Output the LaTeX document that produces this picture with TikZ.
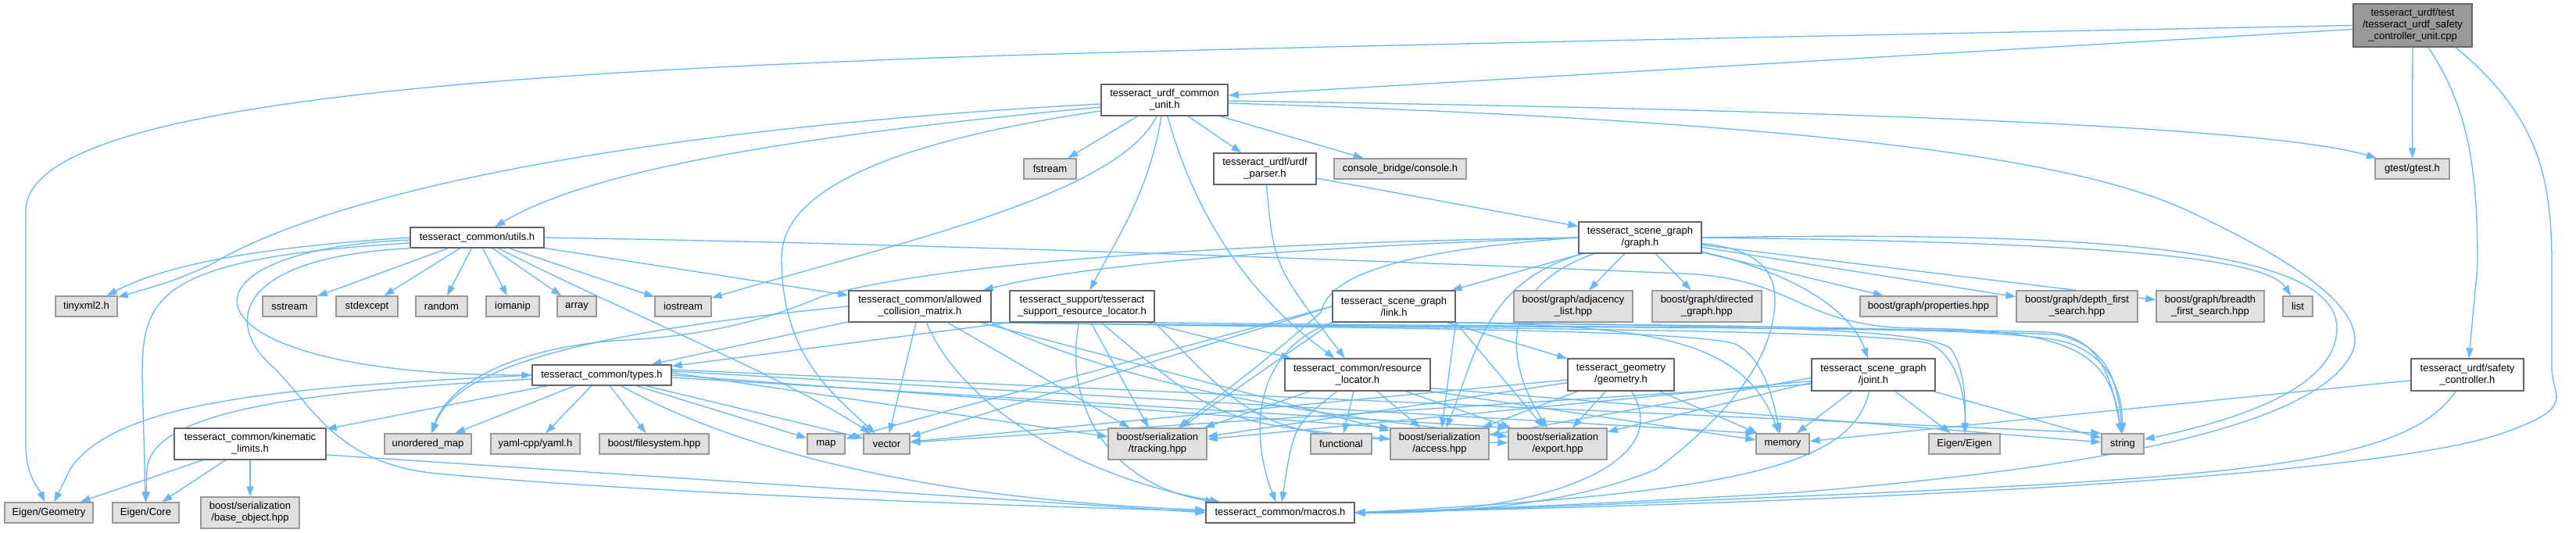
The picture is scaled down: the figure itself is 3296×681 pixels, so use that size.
\documentclass[tikz,border=0pt]{standalone}
\usepackage{fontspec}
\setmainfont{Liberation Sans}
\usetikzlibrary{arrows.meta}
\definecolor{edgec}{RGB}{99,184,255}
\definecolor{leaffill}{RGB}{224,224,224}
\definecolor{leafdraw}{RGB}{153,153,153}
\definecolor{nodedraw}{RGB}{102,102,102}
\definecolor{mainfill}{RGB}{153,153,153}
\pgfdeclarelayer{bg}
\pgfsetlayers{bg,main}
\newcommand\mkbox[7]{\node[#6, minimum width={(#3-#2)*1pt}, minimum height={(#5-#4)*1pt}] (#1) at ({(#2+#3)/2},{(#4+#5)/2}) {#7};}
\begin{document}
\begin{tikzpicture}[x=1pt,y=-1pt,
  nbox/.style={rectangle, inner sep=0pt, font=\fontsize{13}{15}\selectfont, align=center, line width=1.4pt},
  leafbox/.style={nbox, draw=leafdraw, fill=leaffill},
  hdrbox/.style={nbox, draw=nodedraw, fill=white},
  rootbox/.style={nbox, draw=nodedraw, fill=mainfill},
  dep/.style={draw=edgec, line width=1.3pt, -{Triangle[length=13pt,width=9pt]}}]
\useasboundingbox (0,0) rectangle (3296,681);

\mkbox{main}{3011}{3163}{5}{60}{rootbox}{tesseract\_urdf/test\\/tesseract\_urdf\_safety\\\_controller\_unit.cpp}
\mkbox{ucu}{1409}{1571}{108}{148}{hdrbox}{tesseract\_urdf\_common\\\_unit.h}
\mkbox{fstream}{1310}{1377}{203}{229}{leafbox}{fstream}
\mkbox{parser}{1553}{1684}{196}{236}{hdrbox}{tesseract\_urdf/urdf\\\_parser.h}
\mkbox{console}{1707}{1876}{203}{229}{leafbox}{console\_bridge/console.h}
\mkbox{gtest}{3039}{3134}{203}{229}{leafbox}{gtest/gtest.h}
\mkbox{utils}{525}{696}{291}{317}{hdrbox}{tesseract\_common/utils.h}
\mkbox{graph}{2020}{2177}{284}{324}{hdrbox}{tesseract\_scene\_graph\\/graph.h}
\mkbox{tinyxml}{71}{150}{379}{405}{leafbox}{tinyxml2.h}
\mkbox{sstream}{336}{405}{379}{405}{leafbox}{sstream}
\mkbox{stdexcept}{430}{509}{379}{405}{leafbox}{stdexcept}
\mkbox{random}{532}{598}{379}{405}{leafbox}{random}
\mkbox{iomanip}{622}{690}{379}{405}{leafbox}{iomanip}
\mkbox{array}{713}{763}{379}{405}{leafbox}{array}
\mkbox{iostream}{838}{910}{379}{405}{leafbox}{iostream}
\mkbox{acm}{1086}{1268}{372}{412}{hdrbox}{tesseract\_common/allowed\\\_collision\_matrix.h}
\mkbox{support}{1292}{1477}{372}{412}{hdrbox}{tesseract\_support/tesseract\\\_support\_resource\_locator.h}
\mkbox{link}{1705}{1862}{372}{412}{hdrbox}{tesseract\_scene\_graph\\/link.h}
\mkbox{adj}{1937}{2089}{372}{412}{leafbox}{boost/graph/adjacency\\\_list.hpp}
\mkbox{directed}{2114}{2254}{372}{412}{leafbox}{boost/graph/directed\\\_graph.hpp}
\mkbox{props}{2380}{2555}{379}{405}{leafbox}{boost/graph/properties.hpp}
\mkbox{dfs}{2580}{2735}{372}{412}{leafbox}{boost/graph/depth\_first\\\_search.hpp}
\mkbox{bfs}{2759}{2897}{372}{412}{leafbox}{boost/graph/breadth\\\_first\_search.hpp}
\mkbox{list}{2921}{2959}{379}{405}{leafbox}{list}
\mkbox{types}{681}{859}{467}{493}{hdrbox}{tesseract\_common/types.h}
\mkbox{resloc}{1644}{1830}{459}{500}{hdrbox}{tesseract\_common/resource\\\_locator.h}
\mkbox{geometry}{2006}{2142}{459}{500}{hdrbox}{tesseract\_geometry\\/geometry.h}
\mkbox{joint}{2318}{2476}{459}{500}{hdrbox}{tesseract\_scene\_graph\\/joint.h}
\mkbox{safety}{3085}{3229}{459}{500}{hdrbox}{tesseract\_urdf/safety\\\_controller.h}
\mkbox{kinlim}{223}{417}{548}{588}{hdrbox}{tesseract\_common/kinematic\\\_limits.h}
\mkbox{umap}{492}{603}{555}{581}{leafbox}{unordered\_map}
\mkbox{yaml}{628}{742}{555}{581}{leafbox}{yaml-cpp/yaml.h}
\mkbox{fs}{767}{907}{555}{581}{leafbox}{boost/filesystem.hpp}
\mkbox{map}{1033}{1081}{555}{581}{leafbox}{map}
\mkbox{vector}{1105}{1164}{555}{581}{leafbox}{vector}
\mkbox{tracking}{1418}{1544}{548}{588}{leafbox}{boost/serialization\\/tracking.hpp}
\mkbox{functional}{1677}{1755}{555}{581}{leafbox}{functional}
\mkbox{access}{1779}{1905}{548}{588}{leafbox}{boost/serialization\\/access.hpp}
\mkbox{export}{1930}{2056}{548}{588}{leafbox}{boost/serialization\\/export.hpp}
\mkbox{memory}{2247}{2315}{555}{581}{leafbox}{memory}
\mkbox{eigen}{2468}{2559}{555}{581}{leafbox}{Eigen/Eigen}
\mkbox{string}{2689}{2743}{555}{581}{leafbox}{string}
\mkbox{egeom}{6}{119}{643}{669}{leafbox}{Eigen/Geometry}
\mkbox{ecore}{144}{229}{643}{669}{leafbox}{Eigen/Core}
\mkbox{baseobj}{257}{383}{636}{676}{leafbox}{boost/serialization\\/base\_object.hpp}
\mkbox{macros}{1543}{1733}{643}{669}{hdrbox}{tesseract\_common/macros.h}

\begin{pgfonlayer}{bg}
\fill[white] (0,0) rectangle (3296,681);
% main
\draw[dep] (main.west) .. controls (2000,52) and (1300,68) .. (1100,78) .. controls (400,105) and (33,160) .. (33,270) -- (33,570) .. controls (33,610) and (50,625) .. (egeom);
\draw[dep] ([yshift=-5pt]main.west) -- ([yshift=6pt]ucu.east);
\draw[dep] (main) -- (gtest);
\draw[dep] ([xshift=20pt]main.south) .. controls (3160,140) and (3170,220) .. (3170,340) -- (safety);
\draw[dep] ([xshift=55pt]main.south) .. controls (3250,150) and (3265,230) .. (3265,340) -- (3265,470) .. controls (3265,510) and (3300,520) .. (3200,555) .. controls (3050,605) and (2500,640) .. (macros.east);
% ucu
\draw[dep] (ucu) -- (fstream);
\draw[dep] (ucu) -- (parser);
\draw[dep] (ucu) -- (console);
\draw[dep] ([yshift=-1pt]ucu.east) .. controls (2300,140) and (2900,160) .. (gtest);
\draw[dep] ([yshift=-4pt]ucu.east) .. controls (2300,155) and (2650,200) .. (2800,270) .. controls (2950,340) and (3030,400) .. (3010,450) .. controls (2960,560) and (2600,605) .. (2300,630) .. controls (2000,648) and (1850,652) .. (macros.east);
\draw[dep] ([yshift=-5pt]ucu.west) .. controls (900,160) and (450,230) .. (267,340) .. controls (220,360) .. (tinyxml);
\draw[dep] ([yshift=-9pt]ucu.west) .. controls (1000,175) and (750,220) .. (utils);
\draw[dep] ([yshift=-14pt]ucu.west) .. controls (1150,180) and (1000,240) .. (1000,330) .. controls (1000,450) and (1060,500) .. (vector);
\draw[dep] ([xshift=-10pt]ucu.south) .. controls (1430,250) and (1150,310) .. (iostream);
\draw[dep] ([xshift=-4pt]ucu.south) .. controls (1470,250) and (1420,320) .. (support);
\draw[dep] ([xshift=4pt]ucu.south) .. controls (1530,280) and (1600,380) .. (resloc);
% parser
\draw[dep] (parser) -- (graph);
\draw[dep] (parser) .. controls (1630,340) .. (resloc);
% utils
\draw[dep] (utils.west) .. controls (300,318) and (200,345) .. (tinyxml);
\draw[dep] (utils) -- (sstream);
\draw[dep] (utils) -- (stdexcept);
\draw[dep] (utils) -- (random);
\draw[dep] (utils) -- (iomanip);
\draw[dep] (utils) -- (array);
\draw[dep] (utils) -- (iostream);
\draw[dep] (utils) -- (acm);
\draw[dep] ([yshift=-3pt]utils.west) .. controls (200,320) and (220,480) .. (types.west);
\draw[dep] ([yshift=-7pt]utils.west) .. controls (200,330) and (182,380) .. (182,480) -- (ecore);
\draw[dep] (utils.south west) .. controls (290,330) and (290,420) .. (350,470) .. controls (400,520) and (430,590) .. (550,605) .. controls (800,630) and (1300,648) .. (macros);
\draw[dep] (utils) .. controls (800,400) and (1000,480) .. (vector);
\draw[dep] (utils.east) .. controls (1200,312) and (1800,335) .. (2150,350) .. controls (2300,355) and (2300,418) .. (2450,420) .. controls (2650,422) and (2700,450) .. (string);
% types
\draw[dep] (types) -- (kinlim);
\draw[dep] (types) -- (umap);
\draw[dep] (types) -- (yaml);
\draw[dep] (types) -- (fs);
\draw[dep] (types) -- (map);
\draw[dep] (types) -- (vector);
\draw[dep] (types.west) .. controls (380,495) and (150,510) .. (90,600) -- (egeom);
\draw[dep] ([yshift=-5pt]types.west) .. controls (420,500) and (195,520) .. (188,600) -- (ecore);
\draw[dep] (types) .. controls (950,580) and (1200,640) .. (macros);
\draw[dep] ([yshift=3pt]types.east) -- (tracking);
\draw[dep] (types.east) -- (access.north west);
\draw[dep] ([yshift=-3pt]types.east) -- (export.north west);
\draw[dep] ([yshift=5pt]types.east) -- (memory.north west);
\draw[dep] ([yshift=7pt]types.east) -- (string.north west);
% kinlim
\draw[dep] (kinlim) -- (egeom);
\draw[dep] (kinlim) -- (ecore);
\draw[dep] (kinlim) -- (baseobj);
\draw[dep] ([yshift=-14pt]kinlim.east) -- (macros.west);
% acm
\draw[dep] (acm) -- (types);
\draw[dep] (acm.west) .. controls (700,430) and (580,480) .. (umap);
\draw[dep] (acm) -- (vector);
\draw[dep] (acm) -- (tracking);
\draw[dep] (acm) -- (access);
\draw[dep] (acm.south east) .. controls (1500,520) and (1800,540) .. (export);
\draw[dep] (acm.south east) .. controls (1700,420) and (2150,420) .. (2220,440) .. controls (2260,460) and (2270,520) .. (memory);
\draw[dep] (acm.south east) .. controls (1800,420) and (2400,420) .. (2470,440) .. controls (2510,460) and (2515,520) .. (eigen);
\draw[dep] (acm.south east) .. controls (1600,418) and (2400,418) .. (2620,425) .. controls (2680,430) and (2700,470) .. (string);
\draw[dep] (acm) .. controls (1230,520) and (1380,610) .. (macros);
% resloc
\draw[dep] (resloc) -- (tracking);
\draw[dep] (resloc) -- (functional);
\draw[dep] (resloc) -- (access);
\draw[dep] (resloc) -- (export);
\draw[dep] (resloc) .. controls (1655,545) .. (macros);
\draw[dep] (resloc.south east) -- (memory);
\draw[dep] ([yshift=4pt]resloc.south east) -- (string);
% support
\draw[dep] (support) -- (resloc);
\draw[dep] (support.south west) -- (types);
\draw[dep] (support) -- (tracking);
\draw[dep] (support) .. controls (1560,540) .. (access);
\draw[dep] (support.south east) .. controls (1620,560) .. (export);
\draw[dep] (support) .. controls (1360,520) and (1420,620) .. (macros);
\draw[dep] (support.south east) .. controls (1900,418) and (2400,418) .. (2630,428) .. controls (2690,440) and (2710,480) .. (string);
% graph
\draw[dep] (graph) -- (adj);
\draw[dep] (graph) -- (directed);
\draw[dep] (graph) -- (props);
\draw[dep] (graph) -- (dfs);
\draw[dep] (graph) -- (bfs);
\draw[dep] (graph.east) .. controls (2700,310) and (2900,330) .. (list);
\draw[dep] (graph) -- (link);
\draw[dep] (graph) .. controls (2300,350) and (2370,400) .. (joint);
\draw[dep] (graph.west) .. controls (1700,315) and (1400,335) .. (acm);
\draw[dep] (graph.west) .. controls (1600,310) and (1200,335) .. (1050,380) .. controls (980,410) and (900,430) .. (800,435) .. controls (640,445) and (570,500) .. (umap);
\draw[dep] (graph.west) .. controls (1800,320) and (1700,350) .. (1690,400) .. controls (1620,460) .. (tracking);
\draw[dep] (graph) .. controls (1900,360) and (1890,450) .. (access);
\draw[dep] (graph) .. controls (1910,370) and (1930,470) .. (export);
\draw[dep] (graph.east) .. controls (2700,295) and (2990,320) .. (2990,420) .. controls (2990,500) and (2850,540) .. (string);
\draw[dep] (graph) .. controls (2265,320) and (2275,360) .. (2270,400) .. controls (2262,470) and (2200,540) .. (2120,600) .. controls (2000,650) and (1850,656) .. (macros.east);
% link
\draw[dep] (link) -- (geometry);
\draw[dep] (link.west) -- (vector);
\draw[dep] (link.west) -- (map);
\draw[dep] (link.south west) -- (tracking);
\draw[dep] (link.south east) -- (access);
\draw[dep] (link.south east) -- (export);
\draw[dep] (link.south east) .. controls (2100,418) and (2230,430) .. (memory);
\draw[dep] (link.south east) .. controls (2200,418) and (2450,418) .. (2495,445) .. controls (2515,470) and (2515,520) .. (eigen);
\draw[dep] (link.south east) .. controls (2300,418) and (2600,420) .. (2650,440) .. controls (2700,460) and (2715,500) .. (string);
\draw[dep] (link.south west) .. controls (1600,450) and (1600,560) .. (macros);
% geometry
\draw[dep] (geometry) -- (tracking);
\draw[dep] (geometry) -- (vector);
\draw[dep] (geometry) -- (access);
\draw[dep] (geometry) -- (export);
\draw[dep] (geometry) -- (memory);
\draw[dep] (geometry) .. controls (2150,600) and (1950,660) .. (macros.east);
% joint
\draw[dep] (joint) -- (memory);
\draw[dep] (joint) -- (eigen);
\draw[dep] (joint) -- (string);
\draw[dep] ([yshift=-8pt]joint.west) -- (tracking);
\draw[dep] ([yshift=-4pt]joint.west) -- (access);
\draw[dep] ([yshift=-10pt]joint.west) -- (export);
\draw[dep] ([yshift=-12pt]joint.west) -- (vector);
\draw[dep] (joint) .. controls (2370,590) and (2250,630) .. (macros.east);
% safety
\draw[dep] (safety) -- (memory);
\draw[dep] (safety) .. controls (3080,590) and (2900,610) .. (2300,635) .. controls (2000,648) and (1850,654) .. (macros.east);
\end{pgfonlayer}
\end{tikzpicture}
\end{document}
